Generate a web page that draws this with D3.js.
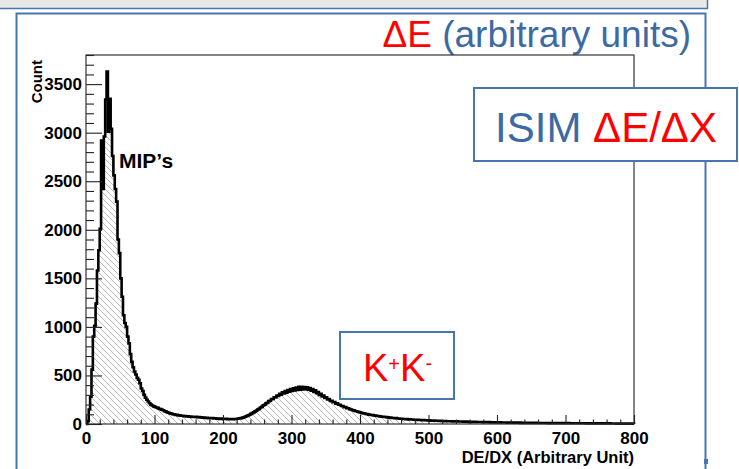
<!DOCTYPE html>
<html>
<head>
<meta charset="utf-8">
<script src="https://cdn.jsdelivr.net/npm/d3@7"></script>
<style>
  html, body { margin: 0; padding: 0; background: #fff; }
  svg { display: block; }
  text { font-family: "Liberation Sans", Arial, Helvetica, sans-serif; }
</style>
</head>
<body>
<svg id="chart" width="739" height="469"></svg>
<script>
// Histogram binning (DE/DX, arbitrary units)
const binStart = 0;
const binWidth = 2;

// Counts per bin, 2 units wide, from 0 to 800
const counts = [
  0, 30, 150, 280, 560, 900, 1010, 1240, 1580, 1790,
  2010, 2920, 2420, 2960, 3340, 3630, 3010, 3350, 3040, 2760,
  2560, 2420, 2290, 1900, 1760, 1500, 1310, 1120, 1040, 1000,
  900, 830, 720, 640, 585, 540, 510, 475, 455, 420,
  365, 340, 300, 272, 250, 232, 214, 200, 190, 182,
  176, 170, 166, 157, 153, 146, 141, 131, 127, 120,
  116, 109, 107, 101, 99, 94, 94, 89, 89, 85,
  85, 81, 81, 78, 79, 75, 77, 73, 75, 72,
  73, 70, 72, 68, 69, 66, 67, 63, 64, 61,
  62, 59, 60, 57, 58, 55, 56, 53, 55, 52,
  54, 51, 53, 50, 52, 49, 51, 50, 52, 52,
  54, 56, 58, 61, 66, 70, 76, 82, 89, 96,
  104, 112, 120, 130, 138, 150, 156, 170, 176, 192,
  198, 214, 218, 236, 240, 256, 258, 276, 274, 294,
  290, 312, 302, 326, 314, 340, 322, 350, 332, 360,
  340, 368, 346, 376, 350, 382, 354, 384, 356, 380,
  358, 378, 352, 370, 342, 360, 330, 346, 316, 330,
  300, 312, 284, 294, 268, 276, 252, 258, 238, 240,
  224, 226, 210, 212, 198, 198, 186, 185, 174, 174,
  163, 162, 153, 150, 144, 140, 134, 131, 126, 122,
  118, 114, 109, 108, 103, 102, 97, 96, 92, 91,
  87, 86, 83, 82, 79, 78, 75, 75, 72, 71,
  68, 65, 66, 62, 62, 59, 60, 57, 57, 54,
  54, 52, 52, 50, 50, 48, 48, 46, 46, 44,
  44, 42, 43, 41, 41, 39, 40, 38, 38, 37,
  37, 35, 36, 34, 35, 33, 33, 32, 32, 31,
  31, 30, 30, 29, 29, 28, 28, 27, 28, 26,
  27, 25, 26, 25, 25, 24, 24, 23, 24, 22,
  23, 22, 22, 21, 22, 20, 21, 20, 20, 19,
  20, 19, 19, 18, 19, 17, 18, 17, 18, 16,
  17, 16, 17, 15, 16, 15, 16, 14, 15, 14,
  15, 14, 14, 13, 14, 13, 14, 12, 13, 12,
  13, 12, 13, 11, 12, 11, 12, 11, 12, 10,
  11, 10, 11, 10, 11, 10, 10, 9, 10, 9,
  10, 9, 10, 9, 9, 8, 9, 8, 9, 8,
  9, 8, 9, 8, 8, 7, 8, 7, 8, 7,
  8, 7, 8, 7, 7, 6, 7, 6, 7, 6,
  7, 6, 7, 6, 6, 6, 6, 5, 6, 5,
  6, 5, 6, 5, 5, 5, 5, 4, 5, 4,
  5, 4, 5, 4, 4, 4, 4, 4, 4, 4
];

// Axis ranges and ticks
const xDomain = [0, 800];
const yDomain = [0, 3800];
const xMajorTicks = [0, 100, 200, 300, 400, 500, 600, 700, 800];
const yMajorTicks = [0, 500, 1000, 1500, 2000, 2500, 3000, 3500];

// Texts
const xTitle = "DE/DX (Arbitrary Unit)";
const yTitle = "Count";
const peakLabel = "MIP\u2019s";

const svg = d3.select("#chart");
const W = 739, H = 469;
const frameBlue = "#4676b0";
const textBlue = "#3d6aa3";
const red = "#ff0000";

svg.append("rect").attr("width", W).attr("height", H).attr("fill", "#fff");

// Strip of the slide above
svg.append("rect").attr("x", 0).attr("y", 0).attr("width", 707).attr("height", 8)
  .attr("fill", "#e9e9e9");
svg.append("path").attr("d", "M0,8.5H707.5V0")
  .attr("fill", "none").attr("stroke", frameBlue).attr("stroke-width", 1.5);

// Outer slide frame
svg.append("path").attr("d", "M16.5,480V13.5H705.5V480")
  .attr("fill", "none").attr("stroke", frameBlue).attr("stroke-width", 2);
svg.append("rect").attr("x", 704).attr("y", 459).attr("width", 4).attr("height", 5)
  .attr("fill", frameBlue);

// Title line
const title = svg.append("text").attr("x", 691).attr("y", 47)
  .attr("text-anchor", "end").attr("font-size", 37);
title.append("tspan").attr("fill", red).text("\u0394E");
title.append("tspan").attr("fill", textBlue).text(" (arbitrary units)");

// Plot area
const x = d3.scaleLinear().domain(xDomain).range([86, 634]);
const y = d3.scaleLinear().domain(yDomain).range([424, 55]);

// Hatch pattern
const defs = svg.append("defs");
const pat = defs.append("pattern").attr("id", "hatch")
  .attr("patternUnits", "userSpaceOnUse").attr("width", 6).attr("height", 6);
pat.append("path").attr("d", "M-1,5L1,7M0,0L6,6M5,-1L7,1")
  .attr("stroke", "#a8a8a8").attr("stroke-width", 0.8);

// Step points: left edge of each bin, closing at the upper edge
const steps = counts.map((c, i) => ({ e: binStart + i * binWidth, c }));
steps.push({ e: binStart + counts.length * binWidth, c: counts[counts.length - 1] });

const area = d3.area().curve(d3.curveStepAfter)
  .x(d => x(d.e)).y0(y(0)).y1(d => y(d.c));
svg.append("path").datum(steps).attr("d", area).attr("fill", "url(#hatch)");

const outline = [{ e: binStart, c: 0 }, ...steps, { e: steps[steps.length - 1].e, c: 0 }];
const line = d3.line().curve(d3.curveStepAfter).x(d => x(d.e)).y(d => y(d.c));
svg.append("path").datum(outline).attr("d", line)
  .attr("fill", "none").attr("stroke", "#000").attr("stroke-width", 2.6)
  .attr("stroke-linejoin", "miter");

// Frame of the plot
svg.append("rect").attr("x", 86).attr("y", 55).attr("width", 548).attr("height", 369)
  .attr("fill", "none").attr("stroke", "#333").attr("stroke-width", 1.2);

// Axes with inward ticks
const xMinor = d3.range(xDomain[0], xDomain[1] + 1, 20).filter(v => v % 100 !== 0);
const yMinor = d3.range(yDomain[0], yDomain[1] + 1, 100).filter(v => v % 500 !== 0);

const gx = svg.append("g").attr("transform", "translate(0,424)");
gx.call(d3.axisBottom(x).tickValues(xMajorTicks).tickSize(-9).tickPadding(8)
  .tickFormat(d3.format("d")));
gx.append("g").call(d3.axisBottom(x).tickValues(xMinor).tickSize(-4.5).tickFormat(""));
const gy = svg.append("g").attr("transform", "translate(86,0)");
gy.call(d3.axisLeft(y).tickValues(yMajorTicks).tickSize(-16).tickPadding(4)
  .tickFormat(d3.format("d")));
gy.append("g").call(d3.axisLeft(y).tickValues(yMinor).tickSize(-8).tickFormat(""));

svg.selectAll(".domain").remove();
svg.selectAll(".tick line").attr("stroke", "#222").attr("stroke-width", 1.1);
svg.selectAll(".tick text").attr("fill", "#000").attr("font-size", 17)
  .attr("font-weight", "bold").attr("font-family", "'Liberation Sans', Arial, sans-serif");

// Axis titles
svg.append("text").attr("x", 634).attr("y", 463).attr("text-anchor", "end")
  .attr("font-size", 16.5).attr("font-weight", "bold").text(xTitle);
svg.append("text").attr("transform", "translate(42,60) rotate(-90)")
  .attr("text-anchor", "end").attr("font-size", 15).attr("font-weight", "bold").text(yTitle);

// Peak annotation
svg.append("text").attr("x", 119).attr("y", 168).attr("font-size", 21)
  .attr("font-weight", "bold").text(peakLabel);

// ISIM label box
svg.append("rect").attr("x", 474).attr("y", 88).attr("width", 263).attr("height", 73)
  .attr("fill", "#fff").attr("stroke", frameBlue).attr("stroke-width", 2);
const isim = svg.append("text").attr("x", 606).attr("y", 142)
  .attr("text-anchor", "middle").attr("font-size", 42);
isim.append("tspan").attr("fill", textBlue).text("ISIM ");
isim.append("tspan").attr("fill", red).text("\u0394E/\u0394X");

// Kaon band label box
svg.append("rect").attr("x", 340).attr("y", 332).attr("width", 114).attr("height", 67)
  .attr("fill", "#fff").attr("stroke", frameBlue).attr("stroke-width", 2);
const kk = svg.append("text").attr("x", 363).attr("y", 381).attr("font-size", 38).attr("fill", red);
kk.append("tspan").text("K");
kk.append("tspan").attr("font-size", 20).attr("dy", -10).text("+");
kk.append("tspan").attr("dy", 10).text("K");
kk.append("tspan").attr("font-size", 20).attr("dy", -11).text("-");
</script>
</body>
</html>
